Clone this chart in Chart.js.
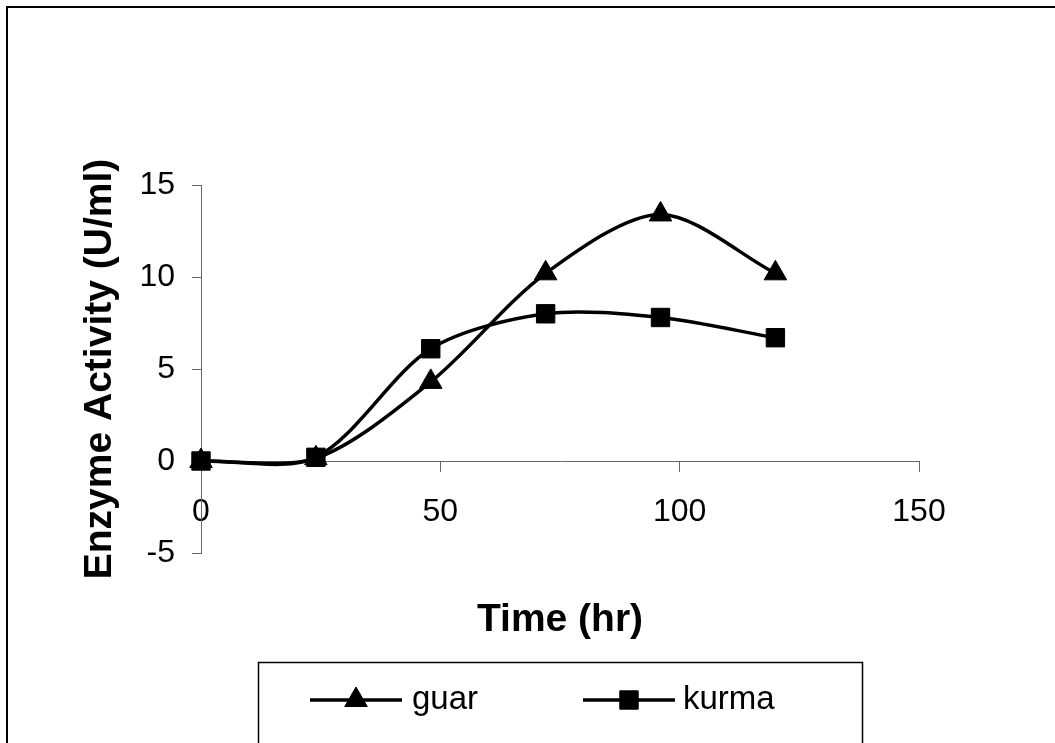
<!DOCTYPE html>
<html>
<head>
<meta charset="utf-8">
<title>Enzyme Activity</title>
<script src="https://cdn.jsdelivr.net/npm/chart.js@4.4.1/dist/chart.umd.min.js"></script>
<style>
  html, body { margin: 0; padding: 0; background: #fff; }
  #wrap { width: 1055px; height: 743px; }
</style>
</head>
<body>
<div id="wrap"><canvas id="enzymeChart" width="1055" height="743"></canvas></div>
<script>
// sampling times (hr) and measured activity (U/ml)
const hours = [0, 24, 48, 72, 96, 120];
const guarActivity = [0, 0.15, 4.3, 10.2, 13.4, 10.2];
const kurmaActivity = [0, 0.2, 6.1, 8.0, 7.8, 6.7];
const seriesNames = ['guar', 'kurma'];
const xTicks = [0, 50, 100, 150];
const yTicks = [-5, 0, 5, 10, 15];

const FONT = '"Liberation Sans", Arial, sans-serif';
Chart.defaults.font.family = FONT;
Chart.defaults.color = '#000';

function toPoints(values) {
  return hours.map((h, i) => ({ x: h, y: values[i] }));
}

// outer frame of the chart object
const framePlugin = {
  id: 'frame',
  afterDraw(chart) {
    const ctx = chart.ctx;
    ctx.save();
    ctx.strokeStyle = '#000';
    ctx.lineWidth = 2;
    ctx.strokeRect(7, 7, 1200, 900);
    ctx.restore();
  }
};

// boxed legend with line + marker samples
const boxLegend = {
  id: 'boxLegend',
  afterDraw(chart) {
    const ctx = chart.ctx;
    const box = { left: 258, top: 662, right: 862, bottom: 760 };
    const rowY = 700;
    const items = [
      { x0: 310, x1: 402, tx: 412 },
      { x0: 583, x1: 675, tx: 683 }
    ];
    ctx.save();
    ctx.strokeStyle = '#000';
    ctx.lineWidth = 1.5;
    ctx.strokeRect(box.left + 0.5, box.top + 0.5, box.right - box.left, box.bottom - box.top);

    chart.data.datasets.forEach((ds, i) => {
      const it = items[i];
      ctx.strokeStyle = ds.borderColor;
      ctx.lineWidth = ds.borderWidth;
      ctx.beginPath();
      ctx.moveTo(it.x0, rowY);
      ctx.lineTo(it.x1, rowY);
      ctx.stroke();
      ctx.fillStyle = ds.pointBackgroundColor;
      ctx.strokeStyle = ds.pointBorderColor;
      ctx.lineWidth = ds.pointBorderWidth;
      Chart.helpers.drawPoint(ctx, {
        pointStyle: ds.pointStyle,
        radius: ds.pointRadius,
        borderWidth: ds.pointBorderWidth,
        rotation: 0
      }, (it.x0 + it.x1) / 2, rowY);
      ctx.fillStyle = '#000';
      ctx.font = '33px ' + FONT;
      ctx.textBaseline = 'middle';
      ctx.textAlign = 'left';
      ctx.fillText(ds.label, it.tx, rowY);
    });
    ctx.restore();
  }
};

const titleFont = 39;
const titleLine = titleFont * 1.2;

const ctx = document.getElementById('enzymeChart').getContext('2d');
new Chart(ctx, {
  type: 'line',
  data: {
    datasets: [{
      label: seriesNames[0],
      data: toPoints(guarActivity),
      borderColor: '#000',
      borderWidth: 3.5,
      tension: 0.3,
      pointStyle: 'triangle',
      pointRadius: 13,
      pointBackgroundColor: '#000',
      pointBorderColor: '#000',
      pointBorderWidth: 1,
      clip: false
    }, {
      label: seriesNames[1],
      data: toPoints(kurmaActivity),
      borderColor: '#000',
      borderWidth: 3.5,
      tension: 0.3,
      pointStyle: 'rect',
      pointRadius: 13,
      pointBackgroundColor: '#000',
      pointBorderColor: '#000',
      pointBorderWidth: 1,
      clip: false
    }]
  },
  options: {
    responsive: false,
    animation: false,
    devicePixelRatio: 1,
    layout: { padding: { left: 7, top: 185, right: 136, bottom: 190 } },
    plugins: {
      legend: { display: false },
      tooltip: { enabled: false }
    },
    scales: {
      x: {
        type: 'linear',
        min: 0,
        max: 150,
        position: { y: 0 },
        afterBuildTicks: (scale) => { scale.ticks = xTicks.map(v => ({ value: v })); },
        afterFit: (scale) => { scale.height = 159 + titleLine / 2; },
        grid: { drawOnChartArea: false, tickLength: 10, color: '#666' },
        border: { display: true, color: '#666', width: 1 },
        ticks: { font: { size: 32 }, padding: 22, maxRotation: 0 },
        title: {
          display: true,
          text: 'Time (hr)',
          font: { size: titleFont, weight: 'bold' },
          padding: { top: 0, bottom: 0 }
        }
      },
      y: {
        type: 'linear',
        min: -5,
        max: 15,
        position: 'left',
        afterBuildTicks: (scale) => { scale.ticks = yTicks.map(v => ({ value: v })); },
        afterFit: (scale) => { scale.width = 194; },
        grid: { drawOnChartArea: false, tickLength: 9, color: '#666' },
        border: { display: true, color: '#666', width: 1 },
        ticks: { font: { size: 32 }, padding: 17 },
        title: {
          display: true,
          text: 'Enzyme Activity (U/ml)',
          font: { size: titleFont, weight: 'bold' },
          padding: { top: 93 - titleLine / 2, bottom: 0 }
        }
      }
    }
  },
  plugins: [framePlugin, boxLegend]
});
</script>
</body>
</html>
